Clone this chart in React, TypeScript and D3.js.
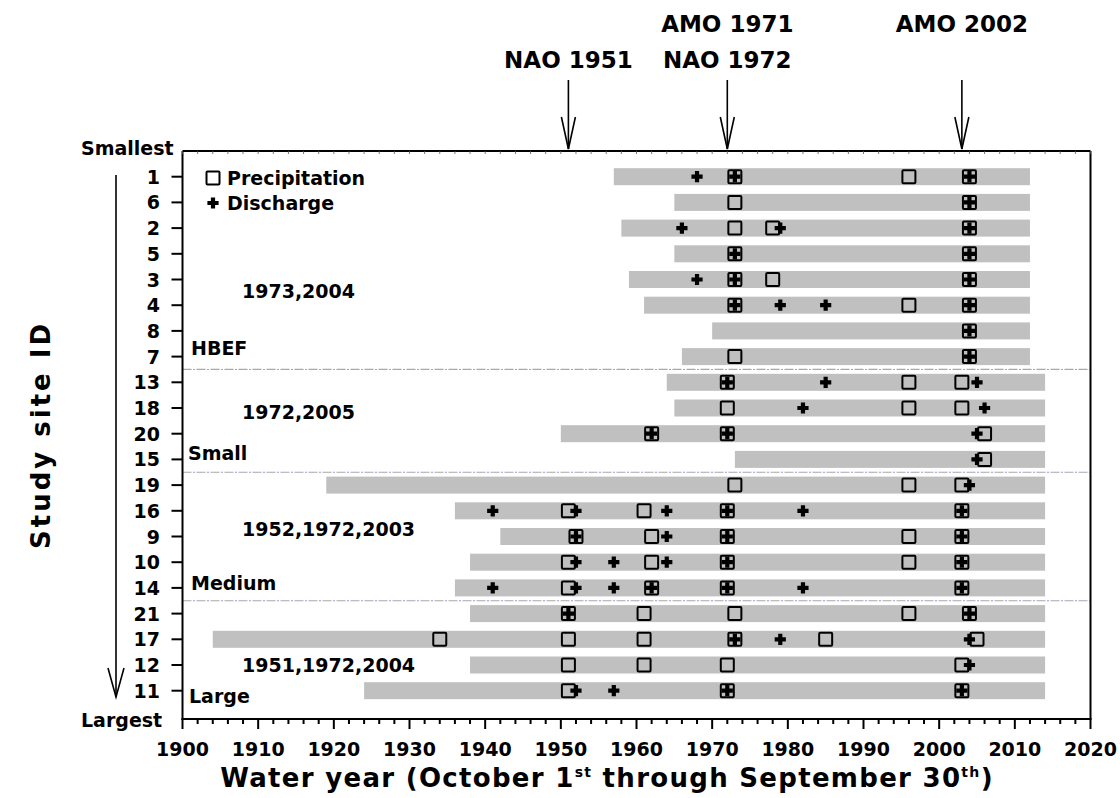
import React from "react";
import * as d3 from "d3";

// Study sites ordered from smallest to largest watershed
const sites = ["1", "6", "2", "5", "3", "4", "8", "7", "13", "18", "20", "15", "19", "16", "9", "10", "14", "21", "17", "12", "11"];
const recordStart = [1957, 1965, 1958, 1965, 1959, 1961, 1970, 1966, 1964, 1965, 1950, 1973, 1919, 1936, 1942, 1938, 1936, 1938, 1904, 1938, 1924];
const recordEnd = [2012, 2012, 2012, 2012, 2012, 2012, 2012, 2012, 2014, 2014, 2014, 2014, 2014, 2014, 2014, 2014, 2014, 2014, 2014, 2014, 2014];

// Change-point years detected in precipitation and discharge
const precipChange = [
  [1973, 1996, 2004],
  [1973, 2004],
  [1973, 1978, 2004],
  [1973, 2004],
  [1973, 1978, 2004],
  [1973, 1996, 2004],
  [2004],
  [1973, 2004],
  [1972, 1996, 2003],
  [1972, 1996, 2003],
  [1962, 1972, 2006],
  [2006],
  [1973, 1996, 2003],
  [1951, 1961, 1972, 2003],
  [1952, 1962, 1972, 1996, 2003],
  [1951, 1962, 1972, 1996, 2003],
  [1951, 1962, 1972, 2003],
  [1951, 1961, 1973, 1996, 2004],
  [1934, 1951, 1961, 1973, 1985, 2005],
  [1951, 1961, 1972, 2003],
  [1951, 1972, 2003],
];
const dischargeChange = [
  [1968, 1973, 2004],
  [2004],
  [1966, 1979, 2004],
  [1973, 2004],
  [1968, 1973, 2004],
  [1973, 1979, 1985, 2004],
  [2004],
  [2004],
  [1972, 1985, 2005],
  [1982, 2006],
  [1962, 1972, 2005],
  [2005],
  [2004],
  [1941, 1952, 1964, 1972, 1982, 2003],
  [1952, 1964, 1972, 2003],
  [1952, 1957, 1964, 1972, 2003],
  [1941, 1952, 1957, 1962, 1972, 1982, 2003],
  [1951, 2004],
  [1973, 1979, 2004],
  [2004],
  [1952, 1957, 1972, 2003],
];

// Size classes
const groupNames = ["HBEF", "Small", "Medium", "Large"];
const groupYears = ["1973,2004", "1972,2005", "1952,1972,2003", "1951,1972,2004"];
const groupLastSite = ["7", "15", "14", "11"];

// Climate regime shifts marked above the plot
const shiftLabels = [["NAO 1951"], ["AMO 1971", "NAO 1972"], ["AMO 2002"]];
const shiftYears = [1951, 1972, 2003];

const xTickValues = d3.range(1900, 2021, 10);

const FONT = "'DejaVu Sans', sans-serif";

export default function App() {
  const width = 1120;
  const height = 798;
  const left = 182.5;
  const right = 1090.5;
  const top = 151;
  const bottom = 719;

  const x = d3.scaleLinear().domain([1900, 2020]).range([left, right]);
  const y = d3.scalePoint<string>().domain(sites).range([176.7, 690.7]);
  const barH = 17;
  const sq = 13;

  const plusPath = (cx: number, cy: number) => {
    const a = 2.1;
    const b = 5.6;
    return `M${cx - a},${cy - b}H${cx + a}V${cy - a}H${cx + b}V${cy + a}H${cx + a}V${cy + b}H${cx - a}V${cy + a}H${cx - b}V${cy - a}H${cx - a}Z`;
  };

  const sepY = groupLastSite.slice(0, 3).map((s) => {
    const i = sites.indexOf(s);
    return ((y(s) as number) + (y(sites[i + 1]) as number)) / 2;
  });

  // label placement for the size classes
  const yearLabelY = [298, 419, 536, 672];
  const nameLabel = [
    { x: 191, y: 355 },
    { x: 188, y: 460 },
    { x: 191, y: 590 },
    { x: 189, y: 703 },
  ];

  const minorTicks = d3.range(1900, 2021, 2);

  return (
    <svg width={width} height={height} style={{ display: "block", position: "absolute", left: 0, top: 0, background: "#fff" }}>
      <g fontFamily={FONT} fontWeight="bold">
        {/* record bars */}
        {sites.map((s, i) => (
          <rect
            key={"bar" + s}
            x={x(recordStart[i])}
            y={(y(s) as number) - barH / 2}
            width={x(recordEnd[i]) - x(recordStart[i])}
            height={barH}
            fill="#c0c0c0"
          />
        ))}

        {/* size-class separators */}
        {sepY.map((sy, i) => (
          <g key={"sep" + i}>
            <line x1={left} x2={right} y1={sy} y2={sy} stroke="#a8a8a8" strokeWidth={1.2} strokeDasharray="9 5" />
            <line x1={left + 11} x2={right} y1={sy} y2={sy} stroke="#3030c0" strokeWidth={1} strokeDasharray="1 13" />
          </g>
        ))}

        {/* precipitation change points */}
        {sites.map((s, i) =>
          precipChange[i].map((yr) => (
            <rect
              key={"p" + s + yr}
              x={x(yr) - sq / 2}
              y={(y(s) as number) - sq / 2}
              width={sq}
              height={sq}
              fill="none"
              stroke="#000"
              strokeWidth={2}
              rx={1}
            />
          ))
        )}

        {/* discharge change points */}
        {sites.map((s, i) =>
          dischargeChange[i].map((yr) => (
            <path key={"d" + s + yr} d={plusPath(x(yr), y(s) as number)} fill="#000" />
          ))
        )}

        {/* frame */}
        <line x1={left} x2={right} y1={top} y2={top} stroke="#000" strokeWidth={2} />
        <line x1={right} x2={right} y1={top} y2={bottom} stroke="#000" strokeWidth={2} />
        <line x1={left} x2={left} y1={top} y2={bottom + 1} stroke="#000" strokeWidth={2} />
        <line x1={left - 1} x2={right + 1} y1={bottom} y2={bottom} stroke="#000" strokeWidth={2} />

        {/* top minor ticks */}
        {minorTicks.map((t) => (
          <line key={"tt" + t} x1={x(t)} x2={x(t)} y1={top} y2={top + 3} stroke="#555" strokeWidth={0.8} />
        ))}

        {/* bottom axis */}
        {minorTicks.map((t) => (
          <line
            key={"bt" + t}
            x1={x(t)}
            x2={x(t)}
            y1={bottom}
            y2={bottom + (t % 10 === 0 ? 10 : 5)}
            stroke="#000"
            strokeWidth={2}
          />
        ))}
        {xTickValues.map((t) => (
          <text key={"xl" + t} x={x(t)} y={756} textAnchor="middle" fontSize={19}>
            {t}
          </text>
        ))}
        <text x={607} y={787} textAnchor="middle" fontSize={26} letterSpacing={1.3}>
          Water year (October 1<tspan fontSize={14} dy={-10}>st</tspan>
          <tspan dy={10}> through September 30</tspan>
          <tspan fontSize={14} dy={-10}>th</tspan>
          <tspan dy={10}>)</tspan>
        </text>

        {/* left axis */}
        {sites.map((s) => (
          <g key={"yt" + s}>
            <line x1={left - 11} x2={left} y1={y(s)} y2={y(s)} stroke="#000" strokeWidth={2} />
            <text x={160} y={(y(s) as number) + 7} textAnchor="end" fontSize={19}>
              {s}
            </text>
          </g>
        ))}
        <text x={81} y={155} fontSize={19}>Smallest</text>
        <text x={81} y={727} fontSize={19}>Largest</text>
        <text transform="translate(50,435) rotate(-90)" textAnchor="middle" fontSize={26} letterSpacing={3}>
          Study site ID
        </text>

        {/* size arrow */}
        <g stroke="#000" strokeWidth={1.6} fill="none">
          <line x1={116} x2={116} y1={175} y2={697} />
          <polyline points="108,668 116,697 124,668" />
        </g>

        {/* regime-shift arrows */}
        {shiftYears.map((yr, i) => (
          <g key={"sh" + yr}>
            <g stroke="#000" strokeWidth={1.6} fill="none">
              <line x1={x(yr)} x2={x(yr)} y1={80} y2={149} />
              <polyline points={`${x(yr) - 7},117 ${x(yr)},149 ${x(yr) + 7},117`} />
            </g>
            {shiftLabels[i].map((lab, j) => (
              <text
                key={lab}
                x={x(yr)}
                y={shiftLabels[i].length === 2 ? (j === 0 ? 32 : 68) : i === 0 ? 68 : 32}
                textAnchor="middle"
                fontSize={23}
              >
                {lab}
              </text>
            ))}
          </g>
        ))}

        {/* legend */}
        <rect x={213 - sq / 2} y={178 - sq / 2} width={sq} height={sq} fill="none" stroke="#000" strokeWidth={2} rx={1} />
        <text x={227} y={185} fontSize={19}>Precipitation</text>
        <path d={plusPath(213, 203)} fill="#000" />
        <text x={227} y={210} fontSize={19}>Discharge</text>

        {/* size-class labels */}
        {groupNames.map((g, i) => (
          <g key={"grp" + g}>
            <text x={242} y={yearLabelY[i]} fontSize={19}>
              {groupYears[i]}
            </text>
            <text x={nameLabel[i].x} y={nameLabel[i].y} fontSize={19}>
              {g}
            </text>
          </g>
        ))}
      </g>
    </svg>
  );
}
